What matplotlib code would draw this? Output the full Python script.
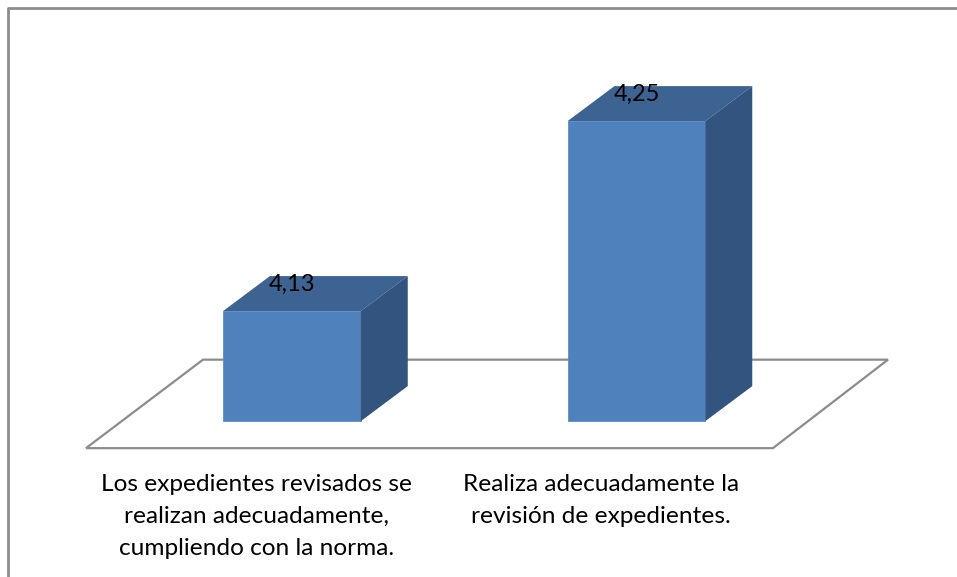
import matplotlib
matplotlib.use("Agg")
from matplotlib import pyplot as plt
from matplotlib.patches import Polygon
from matplotlib.lines import Line2D

# data
categories = ["Los expedientes revisados se\nrealizan adecuadamente,\ncumpliendo con la norma.",
              "Realiza adecuadamente la\nrevisión de expedientes."]
values = [4.13, 4.25]
labels = ["4,13", "4,25"]

base = 4.0605          # value where the bars stand
width = 0.4            # bar width in category units
dx, dy = 0.136, 0.0221 # 3d depth offset (categories, value units)

front_col = "#4F81BD"
top_col = "#3D6392"
side_col = "#32547E"
line_col = "#8C8C8C"

plt.rcParams['font.family'] = ['Lato', 'DejaVu Sans']

fig = plt.figure(figsize=(9.57, 5.77), dpi=100)
ax = fig.add_axes([0, 0, 1, 1])
ax.set_xlim(-0.8476, 1.9303)
ax.set_ylim(3.962, 4.3265)
ax.axis("off")

# outer border (left and top only visible)
bx, by = 8 / 957, 1 - 8 / 577
fig.add_artist(Line2D([bx, bx, 1], [0, by, by], transform=fig.transFigure,
                      color=line_col, lw=2))

# floor
floor_back, floor_front = 4.0993, 4.0434
floor = Polygon([(-0.2583, floor_back), (1.730, floor_back),
                 (1.396, floor_front), (-0.598, floor_front)],
                closed=True, facecolor="white", edgecolor=line_col, lw=1.6, zorder=1)
ax.add_patch(floor)

x = range(len(values))
for i, v in zip(x, values):
    l, r = i - width / 2, i + width / 2
    ax.bar(i, v - base, width=width, bottom=base, color=front_col, zorder=3,
           edgecolor="#5B8CC6", lw=0.6)
    ax.add_patch(Polygon([(l, v), (l + dx, v + dy), (r + dx, v + dy), (r, v)],
                         closed=True, color=top_col, zorder=3, lw=0))
    ax.add_patch(Polygon([(r, v), (r + dx, v + dy), (r + dx, base + dy), (r, base)],
                         closed=True, color=side_col, zorder=3, lw=0))
    ax.text(i, v + 0.0171, labels[i], ha="center", va="center", fontsize=17,
            color="black", zorder=4)
    ax.text(i - 0.102, 4.0605 - 0.0332, categories[i], ha="center", va="top",
            fontsize=17.6, linespacing=1.65, color="black")

fig.savefig("out.png", dpi=100)
